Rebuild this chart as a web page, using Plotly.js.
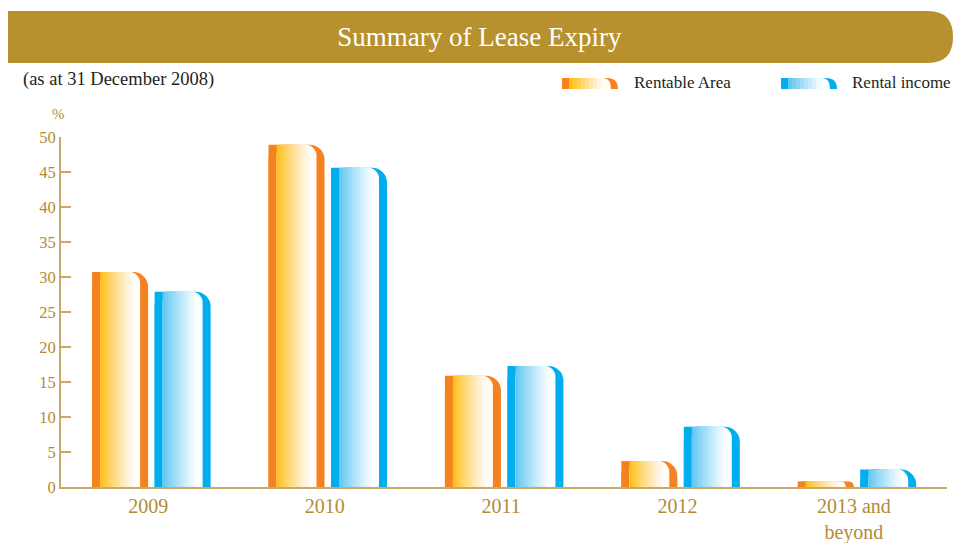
<!DOCTYPE html>
<html>
<head>
<meta charset="utf-8">
<script src="https://cdn.plot.ly/plotly-3.0.1.min.js"></script>
<style>html,body{margin:0;padding:0;background:#fff;}#chart{width:953px;height:543px;}</style>
</head>
<body>
<div id="chart"></div>
<script>
// ---- data ----
const categories = ['2009', '2010', '2011', '2012', '2013 and<br>beyond'];
const rentableArea = [30.7, 48.9, 15.9, 3.7, 0.8];
const rentalIncome = [27.9, 45.6, 17.3, 8.6, 2.5];
const yTickValues = [0, 5, 10, 15, 20, 25, 30, 35, 40, 45, 50];
const seriesNames = ['Rentable Area', 'Rental income'];

// ---- layout geometry (pixels) ----
const W = 953, H = 543;
const L = 61, R = 6, T = 137, B = 56;
const plotW = W - L - R, plotH = H - T - B;
const PX = 176.4;                 // pixels per category
const u = px => px / PX;
const gold = '#B38B34';
const serif = 'Liberation Serif, Times New Roman, serif';

function mix(a, b, t) {
  const c = a.map((v, i) => Math.round(v + (b[i] - v) * t));
  return 'rgb(' + c.join(',') + ')';
}

const styles = [
  {dark: '#F58220', from: [255, 192, 30], to: [255, 246, 232], base: '#FFFCF6', left: -56.2},
  {dark: '#00AEEF', from: [100, 200, 243], to: [238, 249, 254], base: '#FBFEFF', left: 6.3}
];
const seriesValues = [rentableArea, rentalIncome];

const traces = [];
const N = 12, STEP = 2.6;
styles.forEach((s, k) => {
  const vals = seriesValues[k];
  const common = {type: 'bar', x: categories, y: vals, hoverinfo: 'skip', showlegend: false};
  traces.push(Object.assign({}, common, {name: seriesNames[k], offset: u(s.left), width: u(56),
    marker: {color: s.dark, cornerradius: 15, line: {width: 0}}}));
  traces.push(Object.assign({}, common, {offset: u(s.left), width: u(28),
    marker: {color: s.dark, cornerradius: 0, line: {width: 0}}}));
  traces.push(Object.assign({}, common, {offset: u(s.left + 8), width: u(40),
    marker: {color: s.base, cornerradius: 11, line: {width: 0}}}));
  for (let i = 0; i < N; i++) {
    traces.push(Object.assign({}, common, {offset: u(s.left + 8 + i * STEP), width: u(STEP + 0.8),
      marker: {color: mix(s.from, s.to, Math.pow(i / (N - 1), 0.9)), cornerradius: 0, line: {width: 0}}}));
  }
});

// ---- decorations in paper coordinates ----
const px2x = px => (px - L) / plotW;
const py2y = py => (H - B - py) / plotH;
function path(pts) {
  return pts.map(p => p[0] + (p.length > 1 ? ' ' + p.slice(1).map((v, i) => i % 2 === 0 ? px2x(v).toFixed(5) : py2y(v).toFixed(5)).join(',') : '')).join(' ');
}
const shapes = [];
// banner
shapes.push({type: 'path', xref: 'paper', yref: 'paper', layer: 'below', fillcolor: '#B8912F', line: {width: 0},
  path: path([['M', 8, 11], ['L', 928, 11], ['Q', 953, 11, 953, 37], ['Q', 953, 63, 928, 63], ['L', 8, 63], ['Z']])});
// legend swatches
function swatch(x0, s) {
  const x1 = x0 + 56, yt = 78, yb = 89;
  shapes.push({type: 'path', xref: 'paper', yref: 'paper', fillcolor: s.dark, line: {width: 0},
    path: path([['M', x0, yb], ['L', x0, yt], ['L', x1 - 11, yt], ['Q', x1, yt, x1, yb], ['Z']])});
  shapes.push({type: 'path', xref: 'paper', yref: 'paper', fillcolor: s.base, line: {width: 0},
    path: path([['M', x0 + 7, yb], ['L', x0 + 7, yt], ['L', x1 - 15, yt], ['Q', x1 - 7, yt, x1 - 7, yb], ['Z']])});
  const n = 8, st = 4;
  for (let i = 0; i < n; i++) {
    shapes.push({type: 'rect', xref: 'paper', yref: 'paper', fillcolor: mix(s.from, s.to, i / (n - 1)), line: {width: 0},
      x0: px2x(x0 + 7 + i * st), x1: px2x(x0 + 7 + i * st + st + 0.6), y0: py2y(yb), y1: py2y(yt)});
  }
}
swatch(562, styles[0]);
swatch(781, styles[1]);

const annotations = [
  {text: '(as at 31 December 2008)', xref: 'paper', yref: 'paper', x: px2x(21), y: py2y(79), xanchor: 'left', yanchor: 'middle',
    showarrow: false, font: {family: serif, size: 18.5, color: '#231F20'}},
  {text: '%', xref: 'paper', yref: 'paper', x: px2x(58), y: py2y(114), xanchor: 'center', yanchor: 'middle',
    showarrow: false, font: {family: serif, size: 15, color: gold}},
  {text: seriesNames[0], xref: 'paper', yref: 'paper', x: px2x(632), y: py2y(83), xanchor: 'left', yanchor: 'middle',
    showarrow: false, font: {family: serif, size: 17, color: '#231F20'}},
  {text: seriesNames[1], xref: 'paper', yref: 'paper', x: px2x(850), y: py2y(83), xanchor: 'left', yanchor: 'middle',
    showarrow: false, font: {family: serif, size: 17, color: '#231F20'}}
];

const layout = {
  width: W, height: H,
  margin: {l: L, r: R, t: T, b: B, pad: 0},
  paper_bgcolor: '#ffffff', plot_bgcolor: 'rgba(0,0,0,0)',
  barmode: 'overlay',
  showlegend: false,
  title: {text: 'Summary of Lease Expiry', font: {family: serif, size: 27, color: '#ffffff'},
    x: 0.503, xanchor: 'center', xref: 'container', y: 1 - 37 / H, yanchor: 'middle', yref: 'container'},
  xaxis: {type: 'category', range: [-0.495, -0.495 + plotW / PX], showgrid: false, zeroline: false,
    showline: true, linecolor: '#C9A96B', linewidth: 2, ticks: '', ticklabelstandoff: 0,
    tickfont: {family: serif, size: 20, color: gold}, fixedrange: true},
  yaxis: {range: [0, 50], tickvals: yTickValues, ticktext: yTickValues.map(String), showgrid: false, zeroline: false,
    showline: true, linecolor: '#C9A96B', linewidth: 2, ticks: 'inside', ticklen: 10, tickwidth: 1.5, tickcolor: '#C9A96B',
    tickfont: {family: serif, size: 16.5, color: gold}, ticklabelstandoff: 0, fixedrange: true},
  shapes: shapes,
  annotations: annotations
};

Plotly.newPlot('chart', traces, layout, {displayModeBar: false, staticPlot: true});
</script>
</body>
</html>
